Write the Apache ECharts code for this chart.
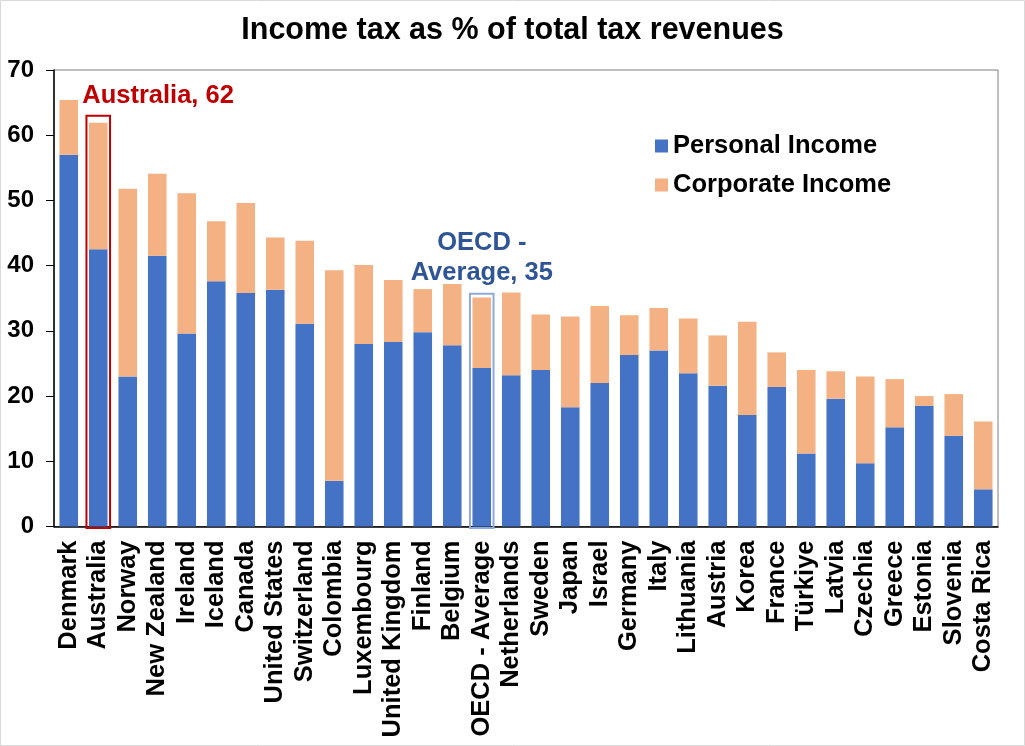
<!DOCTYPE html>
<html>
<head>
<meta charset="utf-8">
<script src="https://cdn.jsdelivr.net/npm/echarts@6/dist/echarts.min.js"></script>
<style>
html,body{margin:0;padding:0;background:#fff;}
#chart{width:1025px;height:746px;}
</style>
</head>
<body>
<div id="chart"></div>
<script>
const categories = ["Denmark","Australia","Norway","New Zealand","Ireland","Iceland","Canada","United States","Switzerland","Colombia","Luxembourg","United Kingdom","Finland","Belgium","OECD - Average","Netherlands","Sweden","Japan","Israel","Germany","Italy","Lithuania","Austria","Korea","France","Türkiye","Latvia","Czechia","Greece","Estonia","Slovenia","Costa Rica"];
const personal = [57.0,42.5,23.0,41.5,29.6,37.6,35.8,36.3,31.1,7.0,28.0,28.3,29.8,27.8,24.3,23.2,24.0,18.3,22.0,26.3,27.0,23.5,21.6,17.1,21.4,11.2,19.6,9.7,15.2,18.5,13.9,5.7];
const corporate = [8.4,19.4,28.8,12.6,21.5,9.2,13.8,8.0,12.7,32.3,12.1,9.5,6.6,9.4,10.8,12.7,8.5,13.9,11.8,6.1,6.5,8.4,7.7,14.3,5.3,12.8,4.2,13.3,7.4,1.5,6.4,10.4];
const highlightIndex = [1, 14];
const highlightTop = [63, 35.7];
const highlightLabel = ["Australia, 62", "OECD -\nAverage, 35"];
const highlightColor = ["#c00000", "#8faadc"];
const highlightTextColor = ["#c00000", "#2f5597"];
const yTicks = [0,10,20,30,40,50,60,70];

const chart = echarts.init(document.getElementById('chart'));
const font = '"Liberation Sans", Arial, sans-serif';

chart.setOption({
  animation: false,
  backgroundColor: '#fff',
  textStyle: { fontFamily: font },
  graphic: [{
    type: 'rect', shape: { x: 0.5, y: 0.5, width: 1024, height: 745 },
    style: { fill: 'none', stroke: '#d9d9d9', lineWidth: 1 }, silent: true
  }],
  title: {
    text: 'Income tax as % of total tax revenues',
    left: 'center', top: 10,
    textStyle: { fontFamily: font, fontWeight: 'bold', fontSize: 30.5, color: '#000' }
  },
  legend: {
    data: ['Personal Income', 'Corporate Income'],
    orient: 'vertical', left: 650, top: 128,
    icon: 'rect', itemWidth: 13, itemHeight: 13, itemGap: 13,
    textStyle: { fontFamily: font, fontWeight: 'bold', fontSize: 25.5, color: '#000' }
  },
  grid: { left: 54, right: 27, top: 70, bottom: 219.5, show: true, borderColor: '#7f7f7f', borderWidth: 1, containLabel: false },
  xAxis: {
    type: 'category', data: categories,
    axisLine: { lineStyle: { color: '#000', width: 1.5 } },
    axisTick: { show: false },
    axisLabel: { rotate: 90, interval: 0, margin: 14, fontFamily: font, fontWeight: 'bold', fontSize: 25.5, color: '#000' }
  },
  yAxis: {
    type: 'value', min: yTicks[0], max: yTicks[yTicks.length-1], interval: 10,
    axisLine: { show: true, lineStyle: { color: '#000', width: 1.5 } },
    axisTick: { show: true, length: 8, inside: false, lineStyle: { color: '#000' } },
    splitLine: { show: false },
    axisLabel: { margin: 20, fontFamily: font, fontWeight: 'bold', fontSize: 24, color: '#000' }
  },
  series: [
    { name: 'Personal Income', type: 'bar', stack: 'tax', data: personal, barCategoryGap: '37%',
      itemStyle: { color: '#4472c4' } },
    { name: 'Corporate Income', type: 'bar', stack: 'tax', data: corporate,
      itemStyle: { color: '#f4b183' } },
    { name: 'highlight', type: 'custom', z: 5,
      data: highlightIndex.map((c, i) => [c, highlightTop[i], i]),
      renderItem: function (params, api) {
        const i = api.value(2);
        const top = api.coord([api.value(0), api.value(1)]);
        const base = api.coord([api.value(0), 0]);
        const w = api.size([1, 0])[0] * 0.8;
        const children = [{
          type: 'rect',
          shape: { x: top[0] - w / 2, y: top[1], width: w, height: base[1] - top[1] + 1.5 },
          style: { fill: 'none', stroke: highlightColor[i], lineWidth: 2 }
        }];
        if (i === 0) {
          children.push({ type: 'text', style: {
            text: highlightLabel[i], x: top[0] - 16, y: top[1] - 7,
            align: 'left', verticalAlign: 'bottom',
            font: 'bold 25.5px ' + font, fill: highlightTextColor[i] } });
        } else {
          children.push({ type: 'text', style: {
            text: highlightLabel[i], x: top[0], y: top[1] - 6,
            align: 'center', verticalAlign: 'bottom', lineHeight: 30,
            font: 'bold 25.5px ' + font, fill: highlightTextColor[i] } });
        }
        return { type: 'group', children: children };
      }
    }
  ]
});
</script>
</body>
</html>
